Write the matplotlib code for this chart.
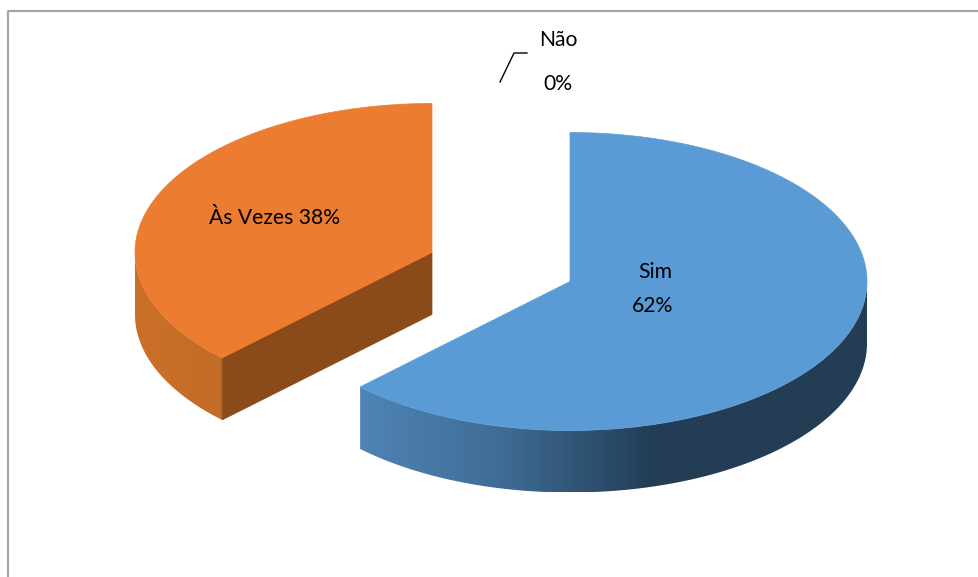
import numpy as np
import matplotlib
matplotlib.use("Agg")
import matplotlib.pyplot as plt
from matplotlib.colors import LinearSegmentedColormap
from matplotlib.patches import Polygon

plt.rcParams["font.family"] = ["Lato", "DejaVu Sans"]

labels = ["Sim", "Às Vezes", "Não"]
values = [62.49, 37.51, 0.0]
shown = ["62%", "38%", "0%"]

RX, RY, DEPTH = 297, 149, 62
centers = {"Sim": (570, 281.5), "Às Vezes": (432, 252.5)}
top_colors = {"Sim": "#5B9BD5", "Às Vezes": "#EB7C30"}


def arc(cx, cy, a0, a1, n=200):
    # angles clockwise from 12 o'clock
    t = np.radians(np.linspace(a0, a1, n))
    return np.column_stack([cx + RX * np.sin(t), cy - RY * np.cos(t)])


def gradient_side(ax, pts, colors):
    poly = Polygon(pts, closed=True, fc="none", ec="none")
    ax.add_patch(poly)
    x0, x1 = pts[:, 0].min(), pts[:, 0].max()
    y0, y1 = pts[:, 1].min(), pts[:, 1].max()
    cmap = LinearSegmentedColormap.from_list("side", colors)
    im = ax.imshow(np.linspace(0, 1, 256).reshape(1, -1), cmap=cmap,
                   extent=[x0, x1, y1, y0], aspect="auto", zorder=1)
    im.set_clip_path(poly)


fig = plt.figure(figsize=(9.79, 5.77), dpi=100)
ax = fig.add_axes([0, 0, 1, 1])

# chart frame, only top and left show in the crop
ax.plot([8, 8, 979], [577, 10.5, 10.5], color="#a6a6a6", lw=1.6, zorder=0)

angles = np.cumsum([0] + values) * 3.6

# Sim slice
cx, cy = centers["Sim"]
a0, a1 = angles[0], angles[1]
edge = arc(cx, cy, 90, a1)
side = np.vstack([edge, (edge + [0, DEPTH])[::-1]])
gradient_side(ax, side, [(0, "#4F84B5"), (0.28, "#3F6C96"), (0.58, "#223D54"), (1, "#223D54")])
top = np.vstack([[cx, cy], arc(cx, cy, a0, a1)])
ax.add_patch(Polygon(top, closed=True, fc=top_colors["Sim"], ec=top_colors["Sim"], lw=0.5, zorder=2))

# Às Vezes slice
cx, cy = centers["Às Vezes"]
a0, a1 = angles[1], angles[2]
edge = arc(cx, cy, a0, 270)
side = np.vstack([edge, (edge + [0, DEPTH])[::-1]])
gradient_side(ax, side, ["#CB7029", "#C26B27"])
corner = arc(cx, cy, a0, a0, 1)[0]
cut = np.array([corner, [cx, cy], [cx, cy + DEPTH], corner + [0, DEPTH]])
ax.add_patch(Polygon(cut, closed=True, fc="#8A4A1A", ec="#8A4A1A", lw=0.5, zorder=2))
top = np.vstack([[cx, cy], arc(cx, cy, a0, a1)])
ax.add_patch(Polygon(top, closed=True, fc=top_colors["Às Vezes"], ec=top_colors["Às Vezes"], lw=0.5, zorder=3))

# Não is 0%, only a leader line
ax.plot([500, 514, 527], [82, 53, 53], color="black", lw=1, zorder=4)

fs = 15.2
ax.text(558, 39.5, labels[2], ha="center", va="center", fontsize=fs, color="black", zorder=5)
ax.text(558, 83.5, shown[2], ha="center", va="center", fontsize=fs, color="black", zorder=5)
ax.text(655, 272.5, labels[0], ha="center", va="center", fontsize=fs, color="black", zorder=5)
ax.text(653, 305.5, shown[0], ha="center", va="center", fontsize=fs, color="black", zorder=5)
ax.text(275, 217.5, labels[1] + " " + shown[1], ha="center", va="center", fontsize=fs, color="black", zorder=5)

ax.set_xlim(0, 979)
ax.set_ylim(577, 0)
ax.axis("off")
fig.savefig("out.png", dpi=100)
